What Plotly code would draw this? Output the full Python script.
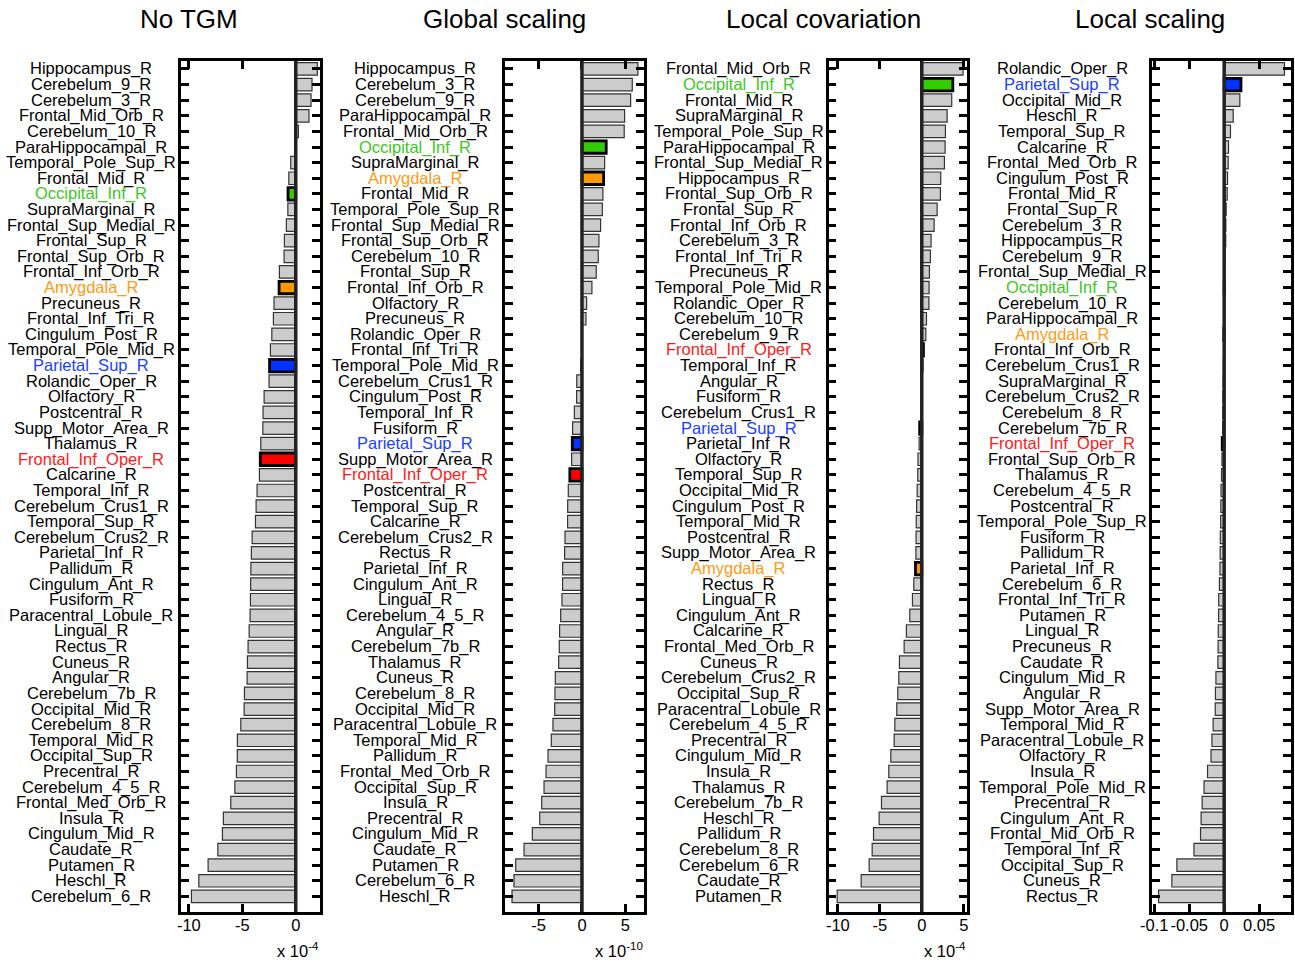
import plotly.graph_objects as go

W, H = 1295, 965
FONT = "Liberation Sans, Arial, Helvetica, sans-serif"

titles = ["No TGM", "Global scaling", "Local covariation", "Local scaling"]

names_notgm = ["Hippocampus_R", "Cerebelum_9_R", "Cerebelum_3_R", "Frontal_Mid_Orb_R", "Cerebelum_10_R",
               "ParaHippocampal_R", "Temporal_Pole_Sup_R", "Frontal_Mid_R", "Occipital_Inf_R", "SupraMarginal_R",
               "Frontal_Sup_Medial_R", "Frontal_Sup_R", "Frontal_Sup_Orb_R", "Frontal_Inf_Orb_R", "Amygdala_R",
               "Precuneus_R", "Frontal_Inf_Tri_R", "Cingulum_Post_R", "Temporal_Pole_Mid_R", "Parietal_Sup_R",
               "Rolandic_Oper_R", "Olfactory_R", "Postcentral_R", "Supp_Motor_Area_R", "Thalamus_R",
               "Frontal_Inf_Oper_R", "Calcarine_R", "Temporal_Inf_R", "Cerebelum_Crus1_R", "Temporal_Sup_R",
               "Cerebelum_Crus2_R", "Parietal_Inf_R", "Pallidum_R", "Cingulum_Ant_R", "Fusiform_R",
               "Paracentral_Lobule_R", "Lingual_R", "Rectus_R", "Cuneus_R", "Angular_R",
               "Cerebelum_7b_R", "Occipital_Mid_R", "Cerebelum_8_R", "Temporal_Mid_R", "Occipital_Sup_R",
               "Precentral_R", "Cerebelum_4_5_R", "Frontal_Med_Orb_R", "Insula_R", "Cingulum_Mid_R",
               "Caudate_R", "Putamen_R", "Heschl_R", "Cerebelum_6_R"]
vals_notgm = [2.02, 1.52, 1.43, 1.24, 0.25, 0.03, -0.47, -0.65, -0.72, -0.74,
              -0.88, -1.06, -1.09, -1.53, -1.56, -2.03, -2.09, -2.24, -2.37, -2.45,
              -2.50, -2.96, -3.06, -3.08, -3.27, -3.32, -3.40, -3.62, -3.71, -3.77,
              -4.08, -4.15, -4.20, -4.22, -4.24, -4.27, -4.36, -4.46, -4.52, -4.55,
              -4.80, -4.83, -5.14, -5.46, -5.47, -5.55, -5.70, -6.08, -6.77, -6.86,
              -7.29, -8.20, -9.07, -9.76]

names_global = ["Hippocampus_R", "Cerebelum_3_R", "Cerebelum_9_R", "ParaHippocampal_R", "Frontal_Mid_Orb_R",
                "Occipital_Inf_R", "SupraMarginal_R", "Amygdala_R", "Frontal_Mid_R", "Temporal_Pole_Sup_R",
                "Frontal_Sup_Medial_R", "Frontal_Sup_Orb_R", "Cerebelum_10_R", "Frontal_Sup_R", "Frontal_Inf_Orb_R",
                "Olfactory_R", "Precuneus_R", "Rolandic_Oper_R", "Frontal_Inf_Tri_R", "Temporal_Pole_Mid_R",
                "Cerebelum_Crus1_R", "Cingulum_Post_R", "Temporal_Inf_R", "Fusiform_R", "Parietal_Sup_R",
                "Supp_Motor_Area_R", "Frontal_Inf_Oper_R", "Postcentral_R", "Temporal_Sup_R", "Calcarine_R",
                "Cerebelum_Crus2_R", "Rectus_R", "Parietal_Inf_R", "Cingulum_Ant_R", "Lingual_R",
                "Cerebelum_4_5_R", "Angular_R", "Cerebelum_7b_R", "Thalamus_R", "Cuneus_R",
                "Cerebelum_8_R", "Occipital_Mid_R", "Paracentral_Lobule_R", "Temporal_Mid_R", "Pallidum_R",
                "Frontal_Med_Orb_R", "Occipital_Sup_R", "Insula_R", "Precentral_R", "Cingulum_Mid_R",
                "Caudate_R", "Putamen_R", "Cerebelum_6_R", "Heschl_R"]
vals_global = [6.46, 5.81, 5.62, 4.92, 4.88, 2.80, 2.62, 2.50, 2.42, 2.35,
               2.15, 1.96, 1.88, 1.65, 1.15, 0.54, 0.46, 0.05, 0.02, -0.15,
               -0.60, -0.62, -0.88, -1.08, -1.12, -1.19, -1.40, -1.58, -1.65, -1.66,
               -1.96, -2.00, -2.23, -2.24, -2.31, -2.46, -2.58, -2.62, -2.69, -3.08,
               -3.12, -3.15, -3.35, -3.54, -3.92, -4.15, -4.38, -4.65, -4.88, -5.73,
               -6.69, -7.65, -7.85, -8.08]

names_localcov = ["Frontal_Mid_Orb_R", "Occipital_Inf_R", "Frontal_Mid_R", "SupraMarginal_R", "Temporal_Pole_Sup_R",
                  "ParaHippocampal_R", "Frontal_Sup_Medial_R", "Hippocampus_R", "Frontal_Sup_Orb_R", "Frontal_Sup_R",
                  "Frontal_Inf_Orb_R", "Cerebelum_3_R", "Frontal_Inf_Tri_R", "Precuneus_R", "Temporal_Pole_Mid_R",
                  "Rolandic_Oper_R", "Cerebelum_10_R", "Cerebelum_9_R", "Frontal_Inf_Oper_R", "Temporal_Inf_R",
                  "Angular_R", "Fusiform_R", "Cerebelum_Crus1_R", "Parietal_Sup_R", "Parietal_Inf_R",
                  "Olfactory_R", "Temporal_Sup_R", "Occipital_Mid_R", "Cingulum_Post_R", "Temporal_Mid_R",
                  "Postcentral_R", "Supp_Motor_Area_R", "Amygdala_R", "Rectus_R", "Lingual_R",
                  "Cingulum_Ant_R", "Calcarine_R", "Frontal_Med_Orb_R", "Cuneus_R", "Cerebelum_Crus2_R",
                  "Occipital_Sup_R", "Paracentral_Lobule_R", "Cerebelum_4_5_R", "Precentral_R", "Cingulum_Mid_R",
                  "Insula_R", "Thalamus_R", "Cerebelum_7b_R", "Heschl_R", "Pallidum_R",
                  "Cerebelum_8_R", "Cerebelum_6_R", "Caudate_R", "Putamen_R"]
vals_localcov = [4.92, 3.70, 3.57, 3.02, 2.82, 2.78, 2.70, 2.26, 2.22, 1.83,
                 1.47, 1.11, 1.03, 0.91, 0.87, 0.85, 0.56, 0.48, 0.20, 0.15,
                 0.03, -0.02, -0.08, -0.25, -0.32, -0.45, -0.48, -0.55, -0.62, -0.66,
                 -0.68, -0.70, -0.75, -0.95, -1.11, -1.43, -1.83, -2.10, -2.66, -2.74,
                 -2.86, -2.98, -3.21, -3.29, -3.69, -3.93, -4.13, -4.80, -5.08, -5.75,
                 -5.91, -6.27, -7.22, -10.08]

names_localscale = ["Rolandic_Oper_R", "Parietal_Sup_R", "Occipital_Mid_R", "Heschl_R", "Temporal_Sup_R",
                    "Calcarine_R", "Frontal_Med_Orb_R", "Cingulum_Post_R", "Frontal_Mid_R", "Frontal_Sup_R",
                    "Cerebelum_3_R", "Hippocampus_R", "Cerebelum_9_R", "Frontal_Sup_Medial_R", "Occipital_Inf_R",
                    "Cerebelum_10_R", "ParaHippocampal_R", "Amygdala_R", "Frontal_Inf_Orb_R", "Cerebelum_Crus1_R",
                    "SupraMarginal_R", "Cerebelum_Crus2_R", "Cerebelum_8_R", "Cerebelum_7b_R", "Frontal_Inf_Oper_R",
                    "Frontal_Sup_Orb_R", "Thalamus_R", "Cerebelum_4_5_R", "Postcentral_R", "Temporal_Pole_Sup_R",
                    "Fusiform_R", "Pallidum_R", "Parietal_Inf_R", "Cerebelum_6_R", "Frontal_Inf_Tri_R",
                    "Putamen_R", "Lingual_R", "Precuneus_R", "Caudate_R", "Cingulum_Mid_R",
                    "Angular_R", "Supp_Motor_Area_R", "Temporal_Mid_R", "Paracentral_Lobule_R", "Olfactory_R",
                    "Insula_R", "Temporal_Pole_Mid_R", "Precentral_R", "Cingulum_Ant_R", "Frontal_Mid_Orb_R",
                    "Temporal_Inf_R", "Occipital_Sup_R", "Cuneus_R", "Rectus_R"]
vals_localscale = [0.0862, 0.0240, 0.0224, 0.0129, 0.0090, 0.0062, 0.0057, 0.0048, 0.0043, 0.0029,
                   0.0024, 0.0022, 0.0010, 0.0008, 0.0005, 0.0002, -0.0002, -0.0005, -0.0008, -0.0012,
                   -0.0015, -0.0018, -0.0020, -0.0022, -0.0028, -0.0032, -0.0038, -0.0045, -0.0048, -0.0050,
                   -0.0055, -0.0057, -0.0060, -0.0068, -0.0078, -0.0080, -0.0085, -0.0087, -0.0090, -0.0118,
                   -0.0125, -0.0128, -0.0158, -0.0175, -0.0188, -0.0238, -0.0288, -0.0315, -0.0330, -0.0338,
                   -0.0432, -0.0676, -0.0748, -0.0938]

exponents = ["-4", "-10", "-4", None]
xtick_vals = [[-10, -5, 0], [-5, 0, 5], [-10, -5, 0, 5], [-0.1, -0.05, 0, 0.05]]
xtick_text = [["-10", "-5", "0"], ["-5", "0", "5"], ["-10", "-5", "0", "5"], ["-0.1", "-0.05", "0", "0.05"]]

bar_colors = {"Occipital_Inf_R": "#33cc00", "Amygdala_R": "#ff9900",
              "Parietal_Sup_R": "#0033ff", "Frontal_Inf_Oper_R": "#ff0000"}
label_colors = {"Occipital_Inf_R": "#3cc81e", "Amygdala_R": "#ff9a14",
                "Parietal_Sup_R": "#1a40ff", "Frontal_Inf_Oper_R": "#ff1a1a"}

panels = [(names_notgm, vals_notgm), (names_global, vals_global),
          (names_localcov, vals_localcov), (names_localscale, vals_localscale)]

# layout geometry (pixels)
ax_left = [181, 505, 828.7, 1152]
ax_w = 138.5
y_top, y_bot = 61, 912
title_x = [188.5, 504.5, 823.5, 1149.5]
label_offset = 90

def px(x):
    return x / W

def py(y):
    return 1 - y / H

fig = go.Figure()
annotations = []
shapes = []
layout_axes = {}

for i, (names, vals) in enumerate(panels):
    k = "" if i == 0 else str(i + 1)
    colors = [bar_colors.get(n, "#cccccc") for n in names]
    lcolors = ["#000000" if n in bar_colors else "#333333" for n in names]
    lwidths = [2.8 if n in bar_colors else 1.2 for n in names]
    fig.add_trace(go.Bar(
        x=vals, y=names, orientation="h", width=0.8,
        xaxis="x" + k, yaxis="y" + k,
        marker=dict(color=colors, line=dict(color=lcolors, width=lwidths)),
        showlegend=False, hoverinfo="x+y"))

    lo, hi = 1.1 * min(vals), 1.1 * max(vals)
    common = dict(showline=True, linewidth=2.5, linecolor="black", mirror="ticks",
                  ticks="inside", ticklen=8, tickwidth=2.5, tickcolor="black",
                  showgrid=False, zeroline=False, automargin=False)
    layout_axes["xaxis" + k] = dict(
        domain=[px(ax_left[i]), px(ax_left[i] + ax_w)], anchor="y" + k,
        range=[lo, hi], tickmode="array", tickvals=xtick_vals[i], ticktext=xtick_text[i],
        tickangle=0, ticklabelstandoff=-4,
        tickfont=dict(family=FONT, size=16.5, color="black"), **common)
    layout_axes["yaxis" + k] = dict(
        domain=[py(y_bot), py(y_top)], anchor="x" + k, type="category",
        categoryorder="array", categoryarray=names, range=[54.0, -0.51],
        showticklabels=False, **common)

    shapes.append(dict(type="line", xref="x" + k, yref="y" + k + " domain",
                       x0=0, x1=0, y0=0, y1=1, layer="above",
                       line=dict(color="#222222", width=3.5)))

    for n in names:
        annotations.append(dict(
            text=n, xref="paper", yref="y" + k, x=px(ax_left[i] - label_offset), y=n,
            xanchor="center", yanchor="middle", showarrow=False,
            font=dict(family=FONT, size=16.5, color=label_colors.get(n, "black"))))

    annotations.append(dict(
        text=titles[i], xref="paper", yref="paper", x=px(title_x[i]), y=py(19),
        xanchor="center", yanchor="middle", showarrow=False,
        font=dict(family=FONT, size=26, color="black")))

    if exponents[i] is not None:
        annotations.append(dict(
            text="x 10<sup>" + exponents[i] + "</sup>", xref="paper", yref="paper",
            x=px(ax_left[i] + ax_w + 1), y=py(950), xanchor="right", yanchor="middle",
            showarrow=False, font=dict(family=FONT, size=16.5, color="black")))

fig.update_layout(
    width=W, height=H, margin=dict(l=0, r=0, t=0, b=0, autoexpand=False),
    paper_bgcolor="white", plot_bgcolor="white",
    font=dict(family=FONT, color="black"),
    bargap=0.2, annotations=annotations, shapes=shapes, **layout_axes)

fig.write_html("out.html")
